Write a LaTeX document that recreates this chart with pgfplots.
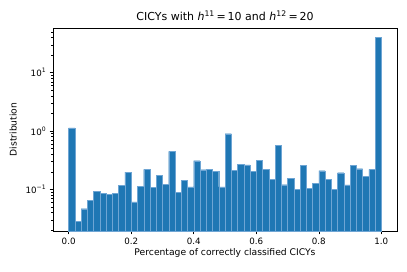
\documentclass[border=0pt]{standalone}
\usepackage{fontspec}
\setmainfont{DejaVu Sans}
\usepackage{pgfplots}
\pgfplotsset{compat=1.18}
\definecolor{barblue}{HTML}{1F77B4}
\definecolor{edgeblue}{RGB}{110,165,212}
\begin{document}
\begin{tikzpicture}
\begin{axis}[
  scale only axis, width=344pt, height=203pt,
  ymode=log, log origin=infty,
  xmin=-0.05, xmax=1.05, ymin=0.0193, ymax=58.5,
  axis line style={line width=0.75pt},
  tick align=outside, tick pos=left,
  major tick length=3.3pt, minor tick length=1.9pt,
  every tick/.style={black, line width=0.6pt},
  minor tick style={line width=0.45pt},
  xtick={0,0.2,0.4,0.6,0.8,1.0},
  xticklabels={0.0,0.2,0.4,0.6,0.8,1.0},
  ytick={0.1,1,10},
  yticklabels={10\textsuperscript{−1},10\textsuperscript{0},10\textsuperscript{1}},
  minor ytick={0.02,0.03,0.04,0.05,0.06,0.07,0.08,0.09,0.2,0.3,0.4,0.5,0.6,0.7,0.8,0.9,2,3,4,5,6,7,8,9,20,30,40,50},
  ticklabel style={font=\fontsize{8.7}{10}\selectfont},
  label style={font=\fontsize{9.2}{11}\selectfont},
  title style={font=\fontsize{11}{13}\selectfont, yshift=-2pt},
  xlabel={Percentage of correctly classified CICYs},
  ylabel={Distribution},
  title={CICYs with \textit{h}\textsuperscript{11}\,=\,10 and \textit{h}\textsuperscript{12}\,=\,20},
  xlabel style={yshift=3pt},
  ylabel style={yshift=2pt},
]
\addplot[ybar interval, fill=barblue, draw=edgeblue, line width=0.35pt] coordinates {
(0.00,1.13) (0.02,0.0283) (0.04,0.0466) (0.06,0.0648) (0.08,0.0924)
(0.10,0.0854) (0.12,0.083) (0.14,0.0854) (0.16,0.117) (0.18,0.198)
(0.20,0.0607) (0.22,0.112) (0.24,0.220) (0.26,0.107) (0.28,0.174)
(0.30,0.122) (0.32,0.448) (0.34,0.0877) (0.36,0.141) (0.38,0.110)
(0.40,0.310) (0.42,0.217) (0.44,0.220) (0.46,0.204) (0.48,0.110)
(0.50,0.90) (0.52,0.212) (0.54,0.265) (0.56,0.262) (0.58,0.201)
(0.60,0.314) (0.62,0.223) (0.64,0.147) (0.66,0.575) (0.68,0.120)
(0.70,0.156) (0.72,0.0987) (0.74,0.255) (0.76,0.103) (0.78,0.127)
(0.80,0.209) (0.82,0.148) (0.84,0.0987) (0.86,0.193) (0.88,0.119)
(0.90,0.258) (0.92,0.226) (0.94,0.167) (0.96,0.220) (0.98,40.9)
(1.00,40.9)
};
\end{axis}
\path ([shift={(-53pt,-40pt)}]current axis.south west) rectangle ([shift={(10pt,28pt)}]current axis.north east);
\end{tikzpicture}
\end{document}
